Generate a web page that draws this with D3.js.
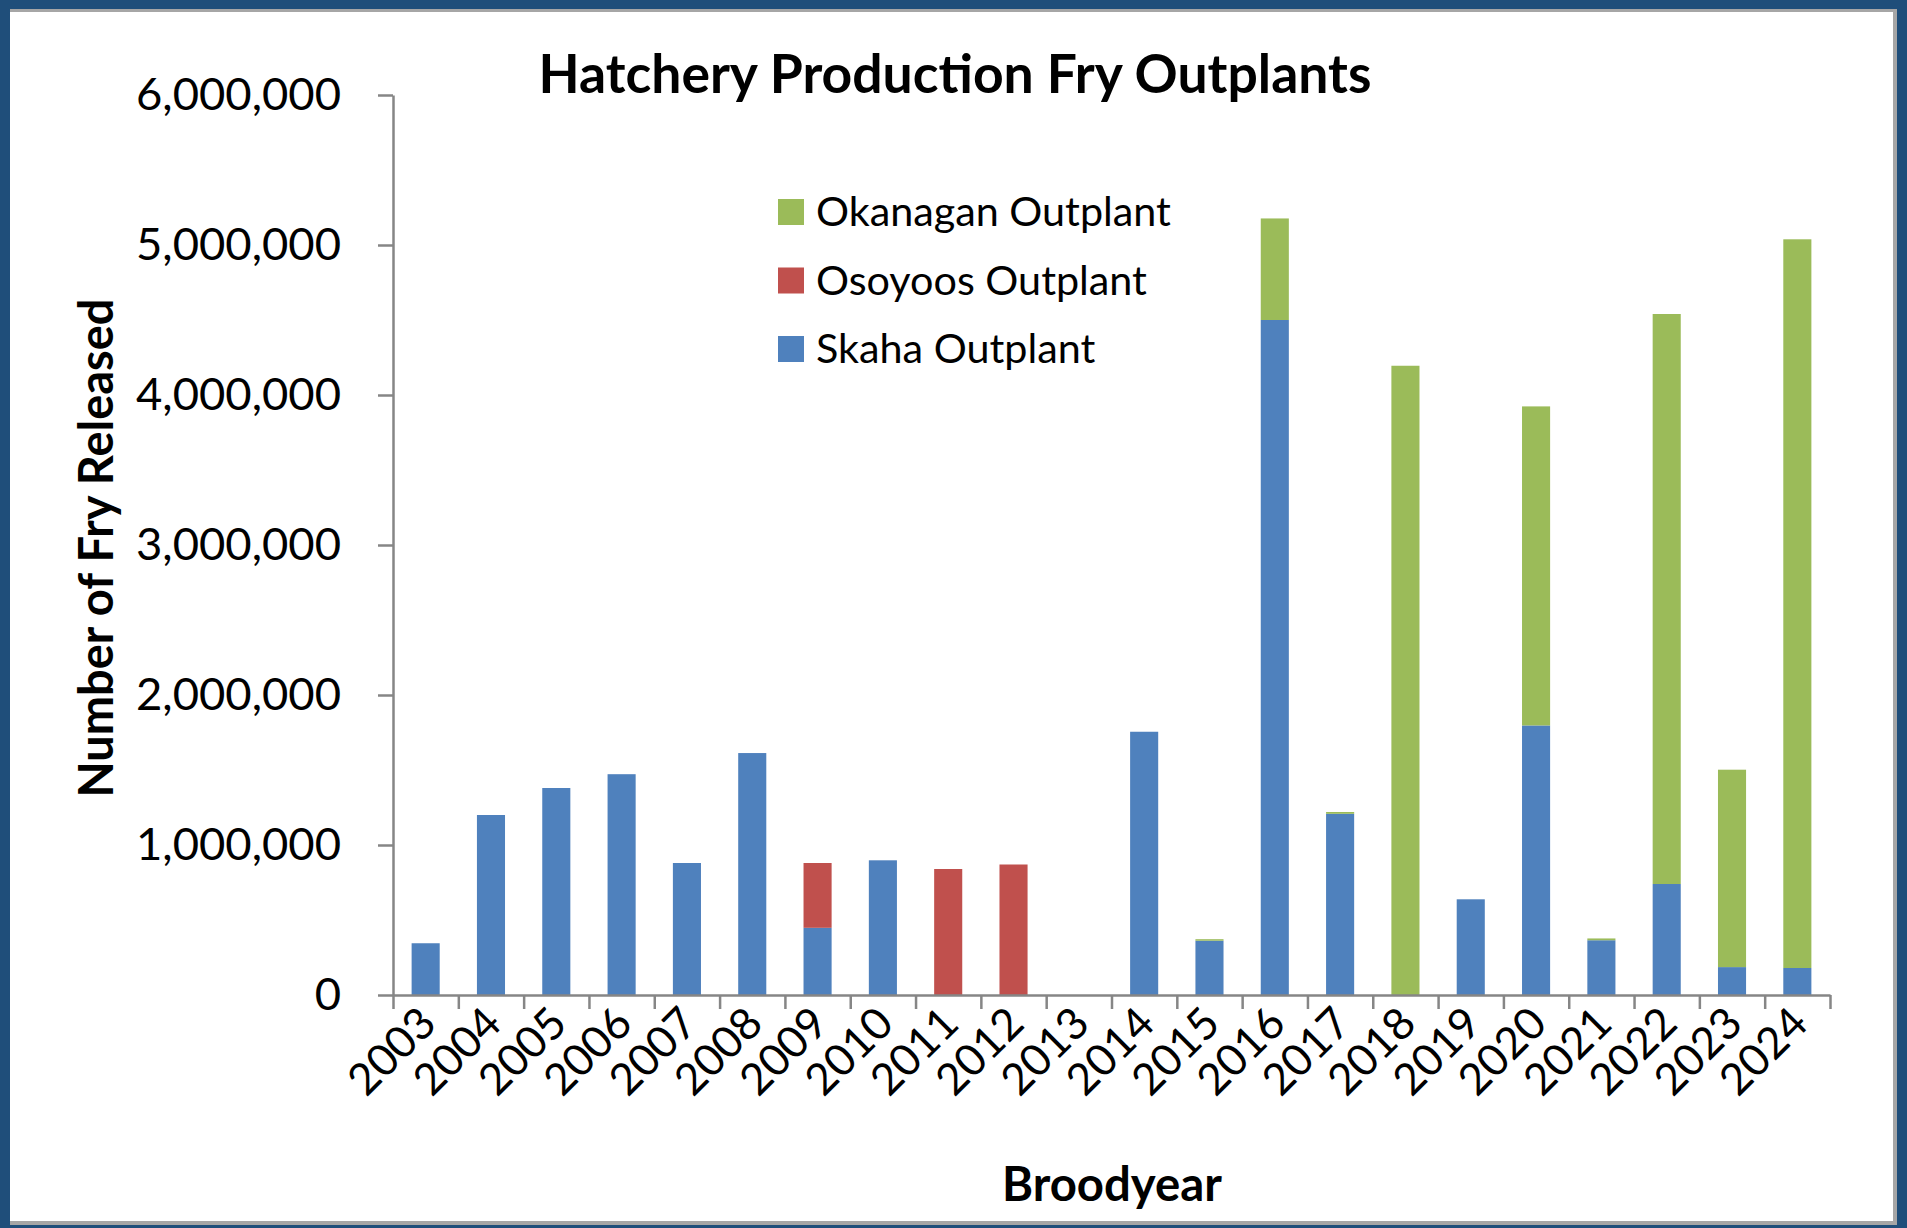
<!DOCTYPE html>
<html>
<head>
<meta charset="utf-8">
<script src="https://cdn.jsdelivr.net/npm/d3@7"></script>
<style>
html,body{margin:0;padding:0;background:#fff;}
svg{display:block;font-family:Lato,"Open Sans",sans-serif;}
</style>
</head>
<body>
<svg id="chart" width="1907" height="1228"></svg>
<script>
// ---- data ----
const years = ["2003","2004","2005","2006","2007","2008","2009","2010","2011","2012","2013",
               "2014","2015","2016","2017","2018","2019","2020","2021","2022","2023","2024"];
const skaha    = [345000,1200000,1380000,1472000,880000,1613000,448000,898000,0,0,0,
                  1755000,362000,4500000,1208000,0,638000,1797000,365000,740000,186000,180000];
const osoyoos  = [0,0,0,0,0,0,432000,0,840000,870000,0,
                  0,0,0,0,0,0,0,0,0,0,0];
const okanagan = [0,0,0,0,0,0,0,0,0,0,0,
                  0,10000,677000,12000,4195000,0,2127000,12000,3800000,1316000,4858000];
const seriesNames = ["Skaha Outplant","Osoyoos Outplant","Okanagan Outplant"];
const yTicks = [0,1000000,2000000,3000000,4000000,5000000,6000000];
const titleText = "Hatchery Production Fry Outplants";
const yTitle = "Number of Fry Released";
const xTitle = "Broodyear";

// ---- styles ----
const colors = {"Skaha Outplant":"#4f81bd","Osoyoos Outplant":"#c0504d","Okanagan Outplant":"#9bbb59"};
const axisColor = "#868686";

const svg = d3.select("#chart");

// frame
svg.append("rect").attr("width",1907).attr("height",1228).attr("fill","#1f4e7a");
svg.append("rect").attr("x",10).attr("y",9).attr("width",1887).attr("height",1216).attr("fill","#a6a6a6");
svg.append("rect").attr("x",10).attr("y",12).attr("width",1883).attr("height",1209).attr("fill","#ffffff");

function fit(sel, target){
  const fs = parseFloat(sel.attr("font-size"));
  const w = sel.node().getComputedTextLength();
  const nf = fs*target/w;
  sel.attr("font-size", nf);
  return nf;
}

const y0 = 995, y1 = 95, xL = 393, xR = 1830;
const y = d3.scaleLinear().domain([0,6000000]).range([y0,y1]);
const x = d3.scaleBand().domain(years).range([xL,xR]).paddingInner(0.57).paddingOuter(0.285);
const edges = d3.scaleLinear().domain([0,years.length]).range([xL,xR]);

// stacked data
const rows = years.map((yr,i)=>({year:yr,"Skaha Outplant":skaha[i],"Osoyoos Outplant":osoyoos[i],"Okanagan Outplant":okanagan[i]}));
const stacked = d3.stack().keys(seriesNames)(rows);

const gBars = svg.append("g");
stacked.forEach(layer=>{
  gBars.selectAll(null).data(layer.filter(d=>d[1]-d[0]>0)).enter().append("rect")
    .attr("x",d=>x(d.data.year))
    .attr("width",x.bandwidth())
    .attr("y",d=>y(d[1]))
    .attr("height",d=>y(d[0])-y(d[1]))
    .attr("fill",colors[layer.key]);
});

// y axis
const yAxis = svg.append("g").attr("transform",`translate(${xL},0)`)
  .call(d3.axisLeft(y).tickValues(yTicks).tickFormat(d3.format(",")).tickSize(15).tickSizeOuter(0).tickPadding(37));
yAxis.select(".domain").attr("stroke",axisColor).attr("stroke-width",2.5);
yAxis.selectAll(".tick line").attr("stroke",axisColor).attr("stroke-width",2.5);
const yLabels = yAxis.selectAll(".tick text").attr("fill","#000").attr("font-size",44).attr("font-family","Lato");
const topLab = yAxis.selectAll(".tick text").filter(d=>d===6000000);
const fsY = fit(topLab, 205);
yLabels.attr("font-size",fsY);

// x axis (ticks between categories)
const xAxis = svg.append("g").attr("transform",`translate(0,${y0})`)
  .call(d3.axisBottom(edges).tickValues(d3.range(years.length+1)).tickFormat("").tickSize(14).tickSizeOuter(0));
xAxis.select(".domain").attr("stroke",axisColor).attr("stroke-width",2.5);
xAxis.selectAll(".tick line").attr("stroke",axisColor).attr("stroke-width",2.5);

svg.append("g").selectAll("text").data(years).enter().append("text")
  .attr("transform",d=>`translate(${x(d)+x.bandwidth()/2+2},${y0+20}) rotate(-45)`)
  .attr("text-anchor","end").attr("dy","0.35em")
  .attr("font-size",44).attr("fill","#000")
  .text(d=>d);

// title
const t = svg.append("text").attr("x",955).attr("y",93).attr("text-anchor","middle")
  .attr("font-weight","bold").attr("font-size",46).attr("fill","#000").text(titleText);
fit(t,833);

// axis titles
const yt = svg.append("text").attr("transform","translate(97,548) rotate(-90)")
  .attr("text-anchor","middle").attr("dy","0.35em").attr("font-weight","bold")
  .attr("font-size",38).attr("fill","#000").text(yTitle);
fit(yt,499);

const xt = svg.append("text").attr("x",1112).attr("y",1201).attr("text-anchor","middle")
  .attr("font-weight","bold").attr("font-size",38).attr("fill","#000").text(xTitle);
fit(xt,220);

// legend
const legendOrder = seriesNames.slice().reverse();
const legendY = d3.scalePoint().domain(legendOrder).range([212,349]);
const lg = svg.append("g");
lg.selectAll("rect").data(legendOrder).enter().append("rect")
  .attr("x",778).attr("y",d=>legendY(d)-13).attr("width",26).attr("height",26)
  .attr("fill",d=>colors[d]);
const lt = lg.selectAll("text").data(legendOrder).enter().append("text")
  .attr("x",816).attr("y",d=>legendY(d)).attr("dy","0.35em")
  .attr("font-size",40).attr("fill","#000").text(d=>d);
const fsL = fit(lt.filter(d=>d==="Okanagan Outplant"),355);
lt.attr("font-size",fsL);
</script>
</body>
</html>
